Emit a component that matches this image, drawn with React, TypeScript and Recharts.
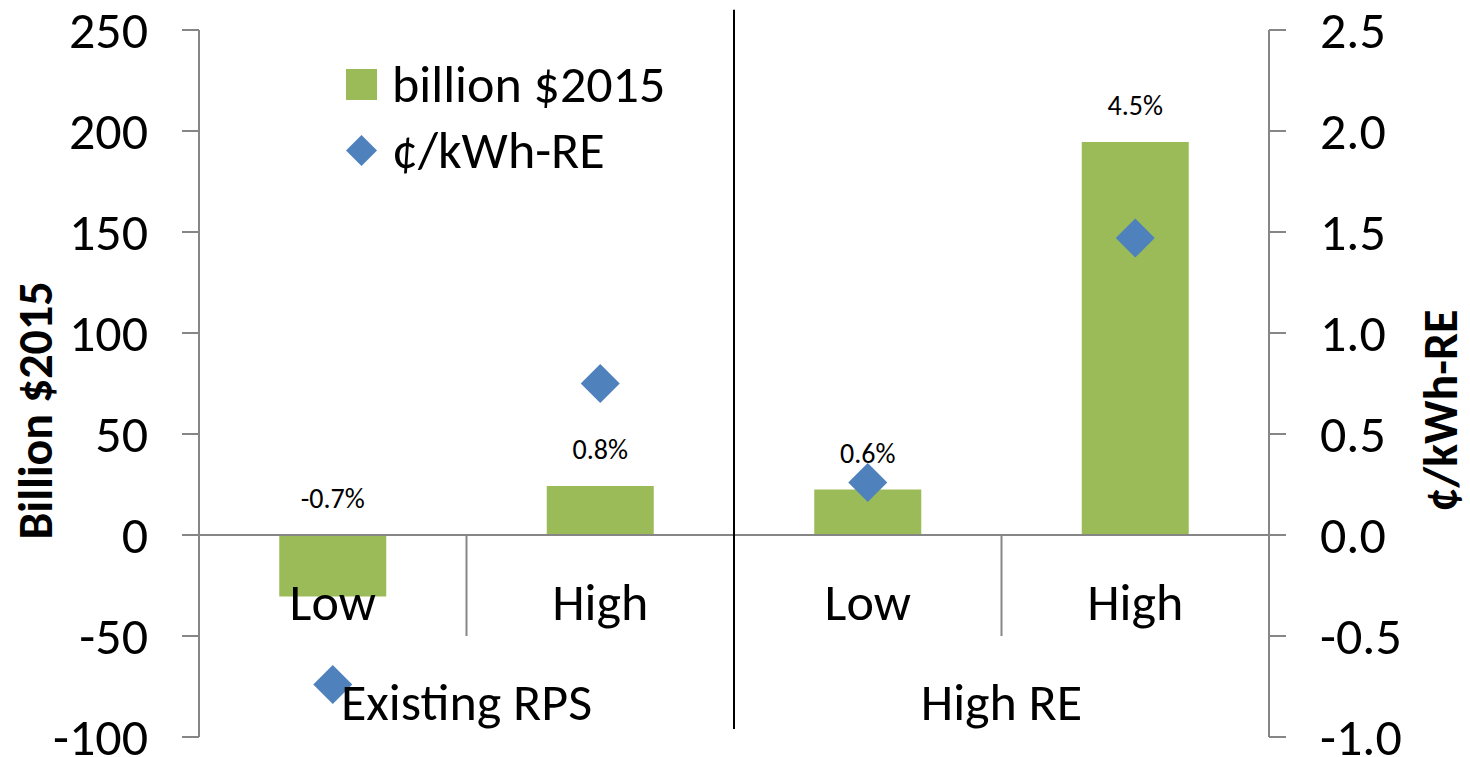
import React from "react";
import {
  ComposedChart,
  Bar,
  Scatter,
  XAxis,
  YAxis,
  ReferenceLine,
  LabelList,
  Legend,
} from "recharts";

const FONT = "Carlito, Calibri, 'Liberation Sans Narrow', 'Open Sans', sans-serif";

const scenarios = ["Low", "High", "Low", "High"];
const groups = ["Existing RPS", "High RE"];
const billions = [-30.5, 24.3, 22.5, 194.5];
const centsPerKwh = [-0.74, 0.75, 0.26, 1.47];
const pctLabels = ["-0.7%", "0.8%", "0.6%", "4.5%"];
const leftTicks = [-100, -50, 0, 50, 100, 150, 200, 250];
const rightTicks = [-1.0, -0.5, 0.0, 0.5, 1.0, 1.5, 2.0, 2.5];
const seriesNames = ["billion $2015", "¢/kWh-RE"];

const GREEN = "#9BBB59";
const BLUE = "#4F81BD";
const GRAY = "#868686";

// the divider between groups was drawn by hand a little past the plot top
const DIVIDER_TOP = 260;
const DIVIDER_BOTTOM = -96;

const perGroup = scenarios.length / groups.length;

const data = scenarios.map((s, i) => ({
  key: `${groups[Math.floor(i / perGroup)]}-${s}`,
  scenario: s,
  billions: billions[i],
  cents: centsPerKwh[i],
  pct: pctLabels[i],
}));

// category whose left edge is the middle of each group, and the categories starting a new group
const groupMidKeys = groups.map((_, g) => data[g * perGroup + perGroup / 2].key);
const groupStartKeys = groups.slice(1).map((_, g) => data[(g + 1) * perGroup].key);

function barBox(p: any) {
  const vb = p.viewBox ?? p;
  const y = Number(vb.y);
  const h = Number(vb.height);
  return { x: Number(vb.x), w: Number(vb.width), top: Math.min(y, y + h), bottom: Math.max(y, y + h) };
}

const PctLabel = (p: any) => {
  const b = barBox(p);
  return (
    <text x={b.x + b.w / 2} y={b.top - 27} textAnchor="middle" fontFamily={FONT} fontSize={28} fill="#000">
      {p.value}
    </text>
  );
};

const ScenarioLabel = (p: any) => {
  const b = barBox(p);
  const zeroY = billions[p.index] >= 0 ? b.bottom : b.top;
  return (
    <text x={b.x + b.w / 2} y={zeroY + 85} textAnchor="middle" fontFamily={FONT} fontSize={52} fill="#000">
      {p.value}
    </text>
  );
};

const Diamond = (p: any) => {
  const { cx, cy } = p;
  const r = 19.5;
  return <polygon points={`${cx},${cy - r} ${cx + r},${cy} ${cx},${cy + r} ${cx - r},${cy}`} fill={BLUE} />;
};

const renderLegend = () => (
  <div style={{ fontFamily: FONT, fontSize: 52, lineHeight: "66px", color: "#000" }}>
    <div style={{ display: "flex", alignItems: "center" }}>
      <svg width={31} height={31}>
        <rect x={0} y={0} width={31} height={31} fill={GREEN} />
      </svg>
      <span style={{ marginLeft: 15 }}>{seriesNames[0]}</span>
    </div>
    <div style={{ display: "flex", alignItems: "center" }}>
      <svg width={31} height={31}>
        <polygon points="15.5,0 31,15.5 15.5,31 0,15.5" fill={BLUE} />
      </svg>
      <span style={{ marginLeft: 15 }}>{seriesNames[1]}</span>
    </div>
  </div>
);

const axisTitle = (text: string, dx: number) => (p: any) => {
  const vb = p.viewBox;
  const cx = vb.x + dx;
  const cy = vb.y + vb.height / 2 + 27;
  return (
    <text
      x={cx}
      y={cy}
      transform={`rotate(-90, ${cx}, ${cy})`}
      textAnchor="middle"
      dominantBaseline="central"
      fontFamily={FONT}
      fontSize={48}
      fontWeight="bold"
      fill="#000"
    >
      {text}
    </text>
  );
};

export default function App() {
  const tickStyle = { fontSize: 52, fill: "#000", fontFamily: FONT };
  return (
    <div style={{ position: "absolute", left: 0, top: 0, width: 1470, height: 757, background: "#fff" }}>
      <ComposedChart
        width={1470}
        height={757}
        data={data}
        margin={{ top: 30, right: 0, bottom: 20, left: 0 }}
        barCategoryGap="30%"
      >
        <XAxis dataKey="key" hide />
        <YAxis
          yAxisId="left"
          domain={[leftTicks[0], leftTicks[leftTicks.length - 1]]}
          ticks={leftTicks}
          interval={0}
          width={199}
          tick={tickStyle}
          tickSize={17}
          tickMargin={34}
          axisLine={{ stroke: GRAY, strokeWidth: 2 }}
          tickLine={{ stroke: GRAY, strokeWidth: 2 }}
          label={{ content: axisTitle("Billion $2015", 35) }}
        />
        <YAxis
          yAxisId="right"
          orientation="right"
          domain={[rightTicks[0], rightTicks[rightTicks.length - 1]]}
          ticks={rightTicks}
          interval={0}
          width={201}
          tick={{ ...tickStyle, textAnchor: "start" }}
          tickFormatter={(v: number) => v.toFixed(1)}
          tickSize={17}
          tickMargin={34}
          axisLine={{ stroke: GRAY, strokeWidth: 2 }}
          tickLine={{ stroke: GRAY, strokeWidth: 2 }}
          label={{ content: axisTitle("¢/kWh-RE", 171) }}
        />
        <Legend
          layout="vertical"
          align="center"
          verticalAlign="middle"
          content={renderLegend}
          wrapperStyle={{ left: 346, top: 51, width: "auto", height: "auto" }}
        />
        <ReferenceLine yAxisId="left" y={0} stroke={GRAY} strokeWidth={2} />
        {groupMidKeys.map((k) => (
          <ReferenceLine
            key={`t-${k}`}
            yAxisId="left"
            position="start"
            segment={[{ x: k, y: 0 }, { x: k, y: -50 }]}
            stroke={GRAY}
            strokeWidth={2}
          />
        ))}
        {groupStartKeys.map((k) => (
          <ReferenceLine
            key={`b-${k}`}
            yAxisId="left"
            position="start"
            segment={[{ x: k, y: DIVIDER_TOP }, { x: k, y: DIVIDER_BOTTOM }]}
            ifOverflow="visible"
            stroke="#000"
            strokeWidth={2}
          />
        ))}
        <Bar yAxisId="left" dataKey="billions" name={seriesNames[0]} fill={GREEN} isAnimationActive={false}>
          <LabelList dataKey="pct" content={PctLabel} />
          <LabelList dataKey="scenario" content={ScenarioLabel} />
        </Bar>
        <Scatter yAxisId="right" dataKey="cents" name={seriesNames[1]} shape={Diamond} isAnimationActive={false} />
        {groupMidKeys.map((k, g) => (
          <ReferenceLine
            key={`g-${k}`}
            yAxisId="left"
            x={k}
            position="start"
            stroke="none"
            label={{ value: groups[g], position: "insideBottom", offset: 17, fontSize: 52, fill: "#000", fontFamily: FONT }}
          />
        ))}
      </ComposedChart>
    </div>
  );
}
